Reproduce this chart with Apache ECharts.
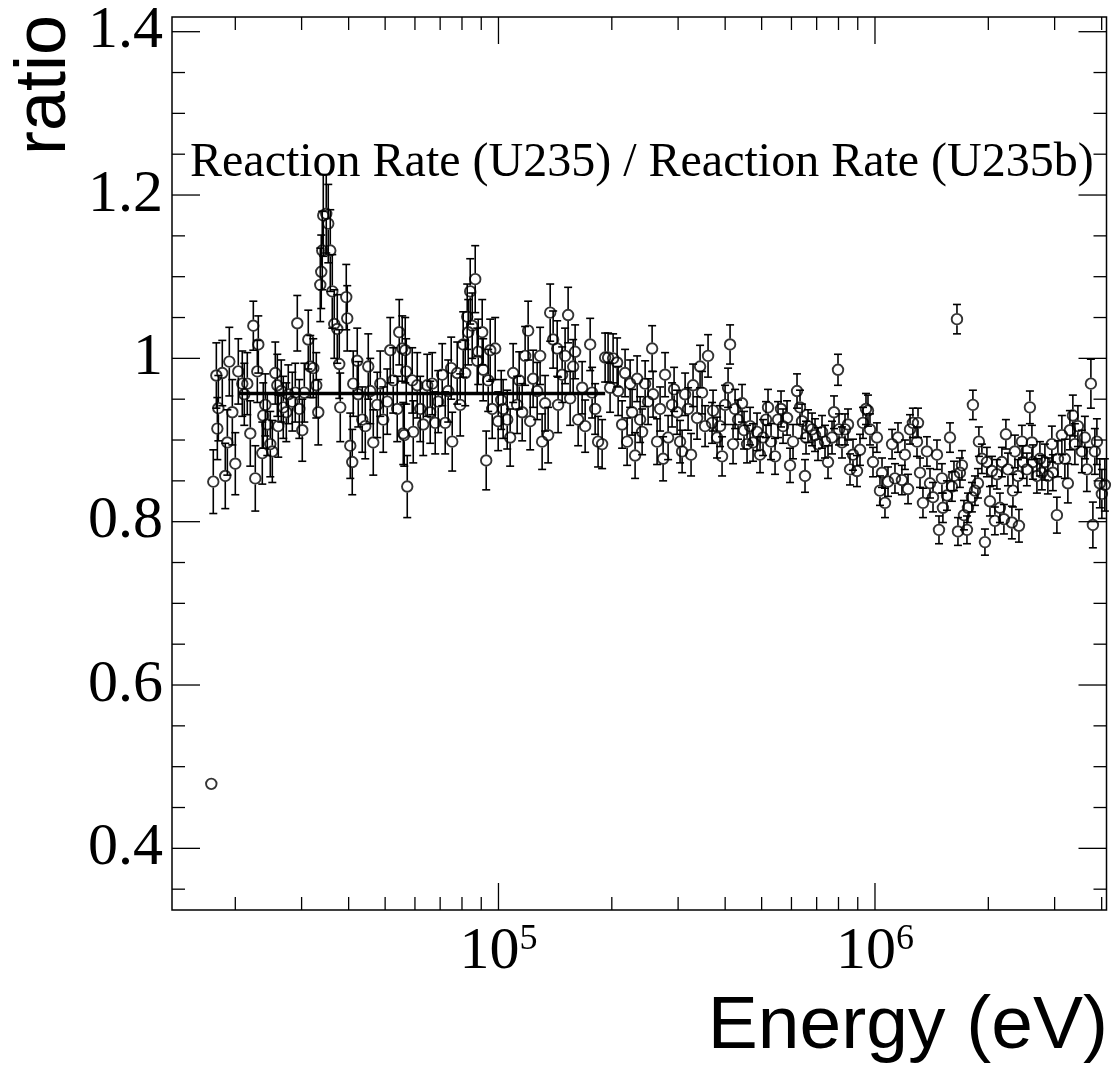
<!DOCTYPE html>
<html><head><meta charset="utf-8">
<script src="https://cdn.jsdelivr.net/npm/echarts@6/dist/echarts.min.js"></script>
<style>html,body{margin:0;padding:0;background:#fff}#c{width:1113px;height:1075px}</style>
</head><body><div id="c"></div>
<script>
// ---- data (energy in eV, ratio, error) ----
const energy = [
17270,17480,17810,17920,18030,18470,18810,19050,19280,19640,
20000,20370,20870,21130,21520,21920,22330,22600,22880,23020,
23590,23730,24030,24320,24770,25080,25540,25860,26010,26490,
26820,27320,27650,28340,28860,29220,29580,30120,30500,31250,
31630,32220,32820,33220,33630,33830,34040,34250,34880,35310,
35750,36190,36630,37310,37770,38000,39420,39660,40400,40890,
41140,42160,42420,43470,44280,45100,45650,46500,47650,48530,
49430,50650,51590,52540,53840,54510,55510,55860,56200,56540,
56890,57240,59010,59380,60850,61970,63120,64680,65880,66690,
67920,69180,70890,72200,73540,74900,75360,77700,79140,80600,
81600,82600,83110,84130,85160,86740,87810,88350,90530,91090,
92770,93910,95070,96240,98020,99830,101700,102900,105500,107400,
109400,112100,113500,115600,117700,119900,121400,123600,126700,129000,
130600,133000,135500,137200,139700,143200,144000,147600,150300,153100,
155000,157900,159800,162800,166800,169900,175200,177300,180600,183900,
188500,192000,195500,197900,201600,206600,207900,213000,216900,219600,
223700,226400,230600,233500,237800,240700,245200,249700,255900,257400,
263800,268700,273700,277000,282200,289100,292700,298100,303600,307400,
313100,318900,324700,328700,336900,343100,347300,353800,360300,369200,
371500,380700,387700,392500,399800,407200,412200,419800,425000,432800,
443500,449000,457300,465800,474400,486100,495100,504300,513600,519900,
529600,542700,552700,562900,569900,584000,594800,605800,620800,632300,
640100,651900,655900,664000,680400,693000,705800,723300,736700,750300,
768900,778400,797600,802500,817300,832500,847900,858300,874200,895800,
912400,929300,946500,958100,969900,987900,1012000,1031000,1044000,1063000,
1083000,1110000,1130000,1151000,1179000,1201000,1224000,1239000,1261000,1293000,
1301000,1317000,1341000,1374000,1400000,1426000,1461000,1479000,1506000,1515000,
1553000,1582000,1601000,1621000,1651000,1661000,1681000,1702000,1723000,1755000,
1766000,1809000,1820000,1843000,1877000,1888000,1923000,1959000,1983000,2020000,
2045000,2082000,2108000,2147000,2173000,2200000,2227000,2255000,2310000,2325000,
2353000,2397000,2412000,2456000,2471000,2532000,2579000,2611000,2627000,2692000,
2742000,2775000,2827000,2879000,2950000,2968000,3042000,3061000,3136000,3194000,
3253000,3294000,3354000,3396000,3459000,3544000,3610000,3654000,3745000,3791000,
3837000,3885000,3956000,4005000,4079000
];
const ratio = [
0.479,0.849,0.979,0.914,0.939,0.982,0.856,0.897,0.996,0.934,
0.871,0.984,0.969,0.956,0.969,0.908,1.040,0.853,0.984,1.017,
0.884,0.930,0.943,0.919,0.895,0.886,0.982,0.967,0.917,0.960,
0.940,0.934,0.956,0.947,0.958,1.043,0.938,0.912,0.958,1.023,
0.990,0.988,0.967,0.934,1.090,1.106,1.132,1.175,1.177,1.165,
1.132,1.082,1.042,1.036,0.993,0.940,1.075,1.049,0.893,0.873,
0.969,0.997,0.956,0.925,0.917,0.990,0.960,0.897,0.943,0.969,
0.925,0.947,1.010,0.973,0.938,1.032,1.012,0.908,0.906,1.010,
0.984,0.843,0.973,0.910,0.967,0.938,0.919,0.967,0.934,0.969,
0.921,0.947,0.980,0.921,0.960,0.988,0.898,0.982,0.943,1.017,
0.982,1.051,1.032,1.082,1.040,1.097,0.997,1.008,1.032,0.986,
0.875,0.973,1.010,0.938,1.012,0.923,0.949,0.938,0.925,0.903,
0.982,0.943,0.973,0.934,1.003,1.034,0.923,0.975,0.960,1.003,
0.898,0.945,0.906,1.056,1.023,1.012,0.943,0.980,1.003,1.053,
0.951,0.990,1.008,0.925,0.964,0.917,1.017,0.958,0.938,0.898,
0.895,1.001,1.001,0.964,1.000,0.995,0.960,0.919,0.982,0.898,
0.969,0.934,0.881,0.975,0.925,0.910,0.969,0.947,1.012,0.956,
0.898,0.938,0.877,0.980,0.903,0.943,0.962,0.934,0.898,0.886,
0.956,0.938,0.882,0.967,0.927,0.990,0.958,0.917,1.003,0.921,
0.936,0.903,0.917,0.880,0.943,0.964,1.017,0.895,0.938,0.925,
0.945,0.912,0.895,0.917,0.897,0.910,0.882,0.903,0.925,0.940,
0.898,0.880,0.925,0.938,0.917,0.927,0.869,0.898,0.960,0.940,
0.923,0.856,0.903,0.917,0.913,0.906,0.895,0.910,0.898,0.873,
0.903,0.934,0.986,0.913,0.897,0.913,0.919,0.864,0.882,0.862,
0.888,0.921,0.938,0.936,0.913,0.873,0.903,0.838,0.860,0.823,
0.849,0.895,0.853,0.903,0.851,0.882,0.840,0.913,0.921,0.898,
0.921,0.860,0.823,0.886,0.847,0.830,0.882,0.790,0.853,0.817,
0.832,0.903,0.843,0.856,1.048,0.788,0.860,0.869,0.808,0.790,
0.817,0.830,0.943,0.838,0.847,0.898,0.877,0.775,0.873,0.825,
0.862,0.801,0.858,0.817,0.873,0.803,0.907,0.864,0.799,0.838,
0.886,0.856,0.795,0.898,0.873,0.864,0.940,0.897,0.873,0.856,
0.877,0.860,0.873,0.856,0.895,0.860,0.808,0.877,0.906,0.877,
0.847,0.912,0.930,0.895,0.917,0.886,0.903,0.864,0.969,0.796,
0.886,0.898,0.847,0.834,0.845
];
const ratioErr = [
0.004,0.039,0.040,0.038,0.040,0.040,0.040,0.040,0.042,0.040,
0.038,0.040,0.040,0.038,0.038,0.040,0.030,0.040,0.038,0.035,
0.038,0.040,0.038,0.038,0.040,0.038,0.038,0.038,0.038,0.038,
0.038,0.036,0.036,0.036,0.036,0.034,0.036,0.038,0.036,0.036,
0.038,0.036,0.040,0.040,0.045,0.045,0.048,0.050,0.048,0.048,
0.050,0.045,0.042,0.042,0.042,0.042,0.040,0.040,0.040,0.040,
0.040,0.040,0.040,0.040,0.040,0.040,0.040,0.040,0.040,0.040,
0.040,0.040,0.040,0.040,0.040,0.040,0.040,0.038,0.038,0.040,
0.040,0.038,0.040,0.038,0.040,0.040,0.038,0.038,0.038,0.038,
0.038,0.038,0.038,0.038,0.038,0.038,0.036,0.038,0.038,0.040,
0.040,0.040,0.040,0.040,0.040,0.041,0.040,0.040,0.040,0.038,
0.036,0.038,0.038,0.036,0.038,0.036,0.036,0.036,0.036,0.035,
0.036,0.035,0.035,0.035,0.036,0.036,0.035,0.035,0.035,0.035,
0.034,0.034,0.034,0.035,0.035,0.034,0.034,0.034,0.034,0.034,
0.033,0.033,0.033,0.032,0.032,0.032,0.032,0.031,0.031,0.031,
0.030,0.030,0.030,0.030,0.030,0.030,0.030,0.029,0.029,0.029,
0.029,0.028,0.028,0.028,0.028,0.028,0.028,0.028,0.028,0.028,
0.028,0.027,0.027,0.027,0.027,0.027,0.027,0.027,0.026,0.026,
0.026,0.026,0.026,0.026,0.026,0.026,0.026,0.025,0.026,0.025,
0.025,0.025,0.025,0.024,0.024,0.024,0.024,0.024,0.024,0.024,
0.023,0.023,0.023,0.023,0.023,0.023,0.022,0.022,0.022,0.022,
0.022,0.022,0.022,0.022,0.021,0.021,0.021,0.021,0.021,0.021,
0.021,0.020,0.020,0.020,0.020,0.020,0.020,0.020,0.020,0.020,
0.020,0.020,0.019,0.019,0.019,0.019,0.019,0.019,0.019,0.019,
0.019,0.019,0.019,0.019,0.019,0.018,0.018,0.018,0.018,0.018,
0.018,0.018,0.018,0.018,0.018,0.018,0.018,0.018,0.018,0.018,
0.018,0.018,0.018,0.018,0.018,0.018,0.018,0.017,0.018,0.018,
0.018,0.018,0.018,0.018,0.018,0.017,0.018,0.018,0.018,0.017,
0.018,0.018,0.018,0.018,0.018,0.018,0.018,0.016,0.018,0.018,
0.018,0.017,0.018,0.018,0.018,0.018,0.018,0.020,0.020,0.020,
0.020,0.020,0.020,0.020,0.020,0.020,0.020,0.021,0.021,0.021,
0.021,0.021,0.022,0.022,0.022,0.022,0.022,0.022,0.024,0.024,
0.024,0.024,0.025,0.025,0.025,0.026,0.026,0.027,0.030,0.028,
0.028,0.028,0.030,0.030,0.032
];
// constant fit drawn over the low-energy region
const fitRange = [20400, 192000];
const fitValue = 0.957;
// axis ticks and labels
const xMajorTicks = [1e5, 1e6];
const xMinorTicks = [2e4,3e4,4e4,5e4,6e4,7e4,8e4,9e4,2e5,3e5,4e5,5e5,6e5,7e5,8e5,9e5,2e6,3e6,4e6];
const xLabelExponents = [5, 6];
const yMajorTicks = [0.4, 0.6, 0.8, 1.0, 1.2, 1.4];
const yTickLabels = ['0.4', '0.6', '0.8', '1', '1.2', '1.4'];
const yMinorTicks = [0.35,0.45,0.5,0.55,0.65,0.7,0.75,0.85,0.9,0.95,1.05,1.1,1.15,1.25,1.3,1.35];
const titleText = 'Reaction Rate (U235) / Reaction Rate (U235b)';
const xTitle = 'Energy (eV)';
const yTitle = 'ratio';

const X_MIN = 13580, X_MAX = 4.12e6, Y_MIN = 0.3245, Y_MAX = 1.418;
const SERIF = '"Liberation Serif", "Times New Roman", serif';
const SANS = '"Liberation Sans", Arial, Helvetica, sans-serif';

const points = energy.map((e, i) => [e, ratio[i], ratioErr[i]]);

function errRender(params, api) {
  const x = api.value(0), y = api.value(1), e = api.value(2);
  const c = api.coord([x, y]);
  const t = api.coord([x, y + e]);
  const b = api.coord([x, y - e]);
  const R = 6, cap = 4;
  const st = { stroke: '#000', lineWidth: 1.6 };
  const ch = [];
  if (c[1] - t[1] > R) {
    ch.push({ type: 'line', shape: { x1: c[0], y1: c[1] - R, x2: t[0], y2: t[1] }, style: st });
    ch.push({ type: 'line', shape: { x1: t[0] - cap, y1: t[1], x2: t[0] + cap, y2: t[1] }, style: st });
  }
  if (b[1] - c[1] > R) {
    ch.push({ type: 'line', shape: { x1: c[0], y1: c[1] + R, x2: b[0], y2: b[1] }, style: st });
    ch.push({ type: 'line', shape: { x1: b[0] - cap, y1: b[1], x2: b[0] + cap, y2: b[1] }, style: st });
  }
  return { type: 'group', children: ch };
}

function xTickSeries(ticks, len) {
  return {
    type: 'custom', silent: true, z: 5,
    data: ticks.map(v => [v, Y_MIN]),
    encode: { x: 0, y: 1 },
    renderItem: (params, api) => {
      const v = api.value(0);
      const pb = api.coord([v, Y_MIN]);
      const pt = api.coord([v, Y_MAX]);
      const st = { stroke: '#000', lineWidth: 1.3 };
      return { type: 'group', children: [
        { type: 'line', shape: { x1: pb[0], y1: pb[1], x2: pb[0], y2: pb[1] - len }, style: st },
        { type: 'line', shape: { x1: pt[0], y1: pt[1], x2: pt[0], y2: pt[1] + len }, style: st }
      ]};
    }
  };
}
function yTickSeries(ticks, len) {
  return {
    type: 'custom', silent: true, z: 5,
    data: ticks.map(v => [X_MIN, v]),
    encode: { x: 0, y: 1 },
    renderItem: (params, api) => {
      const v = api.value(1);
      const pl = api.coord([X_MIN, v]);
      const pr = api.coord([X_MAX, v]);
      const st = { stroke: '#000', lineWidth: 1.3 };
      return { type: 'group', children: [
        { type: 'line', shape: { x1: pl[0], y1: pl[1], x2: pl[0] + len, y2: pl[1] }, style: st },
        { type: 'line', shape: { x1: pr[0], y1: pr[1], x2: pr[0] - len, y2: pr[1] }, style: st }
      ]};
    }
  };
}

const chart = echarts.init(document.getElementById('c'), null, { renderer: 'canvas' });
chart.setOption({
  animation: false,
  backgroundColor: '#fff',
  grid: { left: 172, top: 17, width: 934.5, height: 893, show: true, borderColor: '#000', borderWidth: 1.5, backgroundColor: 'transparent', containLabel: false },
  xAxis: {
    type: 'log', logBase: 10, min: X_MIN, max: X_MAX,
    axisLine: { show: false }, axisTick: { show: false }, splitLine: { show: false }, minorTick: { show: false },
    axisLabel: {
      margin: 12,
      formatter: (v) => {
        const lg = Math.log10(v);
        const ex = Math.round(lg);
        if (Math.abs(lg - ex) > 1e-6 || xLabelExponents.indexOf(ex) < 0) return '';
        return '{base|10}{sup|' + ex + '}';
      },
      rich: {
        base: { fontFamily: SERIF, fontSize: 60, color: '#000', lineHeight: 60 },
        sup: { fontFamily: SERIF, fontSize: 36, color: '#000', verticalAlign: 'top', lineHeight: 36, padding: [0, 0, 24, 0] }
      }
    }
  },
  yAxis: {
    type: 'value', min: Y_MIN, max: Y_MAX,
    axisLine: { show: false }, axisTick: { show: false }, splitLine: { show: false },
    axisLabel: {
      customValues: yMajorTicks,
      margin: 9,
      fontFamily: SERIF, fontSize: 60, color: '#000',
      formatter: (v) => {
        let best = 0;
        yMajorTicks.forEach((t, i) => { if (Math.abs(t - v) < Math.abs(yMajorTicks[best] - v)) best = i; });
        return yTickLabels[best];
      }
    }
  },
  graphic: [
    { type: 'text', x: 190, y: 163, silent: true,
      style: { text: titleText, font: '48px ' + SERIF, fill: '#000', textAlign: 'left', textVerticalAlign: 'middle' } },
    { type: 'text', x: 1108, y: 1027, silent: true,
      style: { text: xTitle, font: '75px ' + SANS, fill: '#000', textAlign: 'right', textVerticalAlign: 'middle' } },
    { type: 'text', x: 45, y: 15, rotation: Math.PI / 2, silent: true,
      style: { text: yTitle, font: '72px ' + SANS, fill: '#000', textAlign: 'right', textVerticalAlign: 'middle' } }
  ],
  series: [
    { type: 'custom', name: 'errors', data: points, encode: { x: 0, y: 1 }, renderItem: errRender, z: 2, silent: true },
    { type: 'scatter', name: 'ratio', data: points, encode: { x: 0, y: 1 }, symbol: 'circle', symbolSize: 10.5,
      itemStyle: { color: 'rgba(0,0,0,0)', borderColor: '#000', borderWidth: 1.9 }, z: 3, silent: true },
    { type: 'line', name: 'fit', data: [[fitRange[0], fitValue], [fitRange[1], fitValue]], symbol: 'none',
      lineStyle: { color: '#000', width: 3.5 }, z: 4, silent: true },
    xTickSeries(xMajorTicks, 27),
    xTickSeries(xMinorTicks, 13),
    yTickSeries(yMajorTicks, 28),
    yTickSeries(yMinorTicks, 13)
  ]
});
</script>
</body></html>
